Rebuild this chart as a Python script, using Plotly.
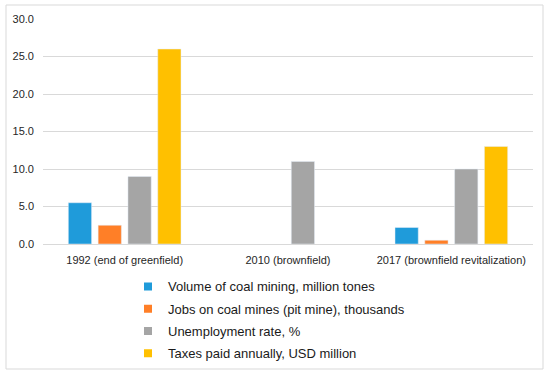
import plotly.graph_objects as go

categories = ["1992 (end of greenfield)", "2010 (brownfield)", "2017 (brownfield revitalization)"]
series_names = [
    "Volume of coal mining, million tones",
    "Jobs on coal mines (pit mine), thousands",
    "Unemployment rate, %",
    "Taxes paid annually, USD million",
]
coal_volume = [5.5, None, 2.2]
coal_jobs = [2.5, None, 0.5]
unemployment = [9.0, 11.0, 10.0]
taxes = [26.0, None, 13.0]
colors = ["#1F9BDA", "#FF7F27", "#A5A5A5", "#FFC000"]
y_ticks = [0, 5, 10, 15, 20, 25, 30]
y_tick_labels = ["0.0", "5.0", "10.0", "15.0", "20.0", "25.0", "30.0"]

series_values = [coal_volume, coal_jobs, unemployment, taxes]

fig = go.Figure()
for i, (name, vals, col) in enumerate(zip(series_names, series_values, colors)):
    fig.add_trace(go.Bar(
        x=categories, y=vals, name=name, marker_color=col,
        showlegend=False, hoverinfo="y",
    ))
for i, (name, col) in enumerate(zip(series_names, colors)):
    fig.add_trace(go.Scatter(
        x=[categories[0]], y=[None], mode="markers", name=name,
        marker=dict(symbol="square", size=8, color=col),
        legendgroup=f"g{i}", showlegend=True, hoverinfo="skip",
    ))

fig.update_layout(
    width=550, height=377,
    margin=dict(l=43, r=17, t=19, b=133, autoexpand=False),
    paper_bgcolor="white", plot_bgcolor="white",
    barmode="group", bargap=0.27, bargroupgap=0.22,
    font=dict(family="Liberation Sans, Arial, sans-serif", color="#262626"),
    legend=dict(
        orientation="v", x=(128 - 43) / 490, xanchor="left",
        y=-0.122, yanchor="top",
        font=dict(size=13, color="#1a1a1a"),
        tracegroupgap=2.4, itemwidth=30,
        bgcolor="rgba(0,0,0,0)",
    ),
    shapes=[dict(
        type="rect", xref="paper", yref="paper",
        x0=(6 - 43) / 490, x1=(543 - 43) / 490,
        y0=(244 - 369) / 225, y1=(244 - 5) / 225,
        line=dict(color="#D9D9D9", width=1), fillcolor="rgba(0,0,0,0)", layer="below",
    )],
)
fig.update_xaxes(
    type="category", showgrid=False, showline=False, zeroline=False, ticks="",
    tickangle=0, automargin=False,
    tickfont=dict(size=11, color="#262626"), ticklabelstandoff=8,
)
fig.update_yaxes(
    range=[0, 30], tickvals=y_ticks, ticktext=y_tick_labels, automargin=False,
    showgrid=True, gridcolor="#D9D9D9", gridwidth=1,
    zeroline=True, zerolinecolor="#D9D9D9", zerolinewidth=1,
    showline=False, ticks="", tickfont=dict(size=11, color="#262626"),
    ticklabelstandoff=8,
)

fig.write_html("out.html", config={"displayModeBar": False},
               post_script="document.body.style.margin='0';")
